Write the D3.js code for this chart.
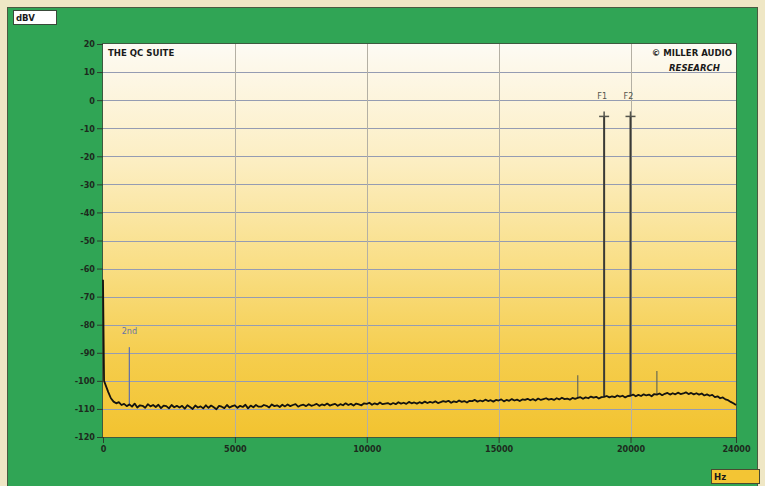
<!DOCTYPE html>
<html>
<head>
<meta charset="utf-8">
<script src="https://cdn.jsdelivr.net/npm/d3@7"></script>
<style>
  body { margin: 0; background: #efe7c5; }
  svg text { font-family: "DejaVu Sans Condensed", "Liberation Sans Narrow", sans-serif; }
</style>
</head>
<body>
<div id="chart"></div>
<script>
// ---- data ----
var yTicks = [20, 10, 0, -10, -20, -30, -40, -50, -60, -70, -80, -90, -100, -110, -120];
var xTicks = [0, 5000, 10000, 15000, 20000, 24000];
var xGrid = [5000, 10000, 15000, 20000];

// noise floor, first few points near DC then 100 Hz steps
var lowFreq = [0, 40, 100, 200, 300, 400, 500, 600, 700, 800, 900];
var lowDb = [-64, -100, -101.5, -104, -106.2, -107.4, -108, -107.6, -108.6, -108.2, -109];
// one row per kHz (x.0 .. x.9 kHz), from 1 kHz to 23.9 kHz
var noiseRows = [
  [-108.4, -109.2, -108.1, -109.5, -108.7, -108.9, -109.6, -108.3, -109.1, -108.6],
  [-109.3, -108.5, -109.7, -108.8, -109.0, -109.8, -108.6, -109.4, -108.9, -109.5],
  [-108.9, -109.9, -108.7, -109.3, -110.0, -108.8, -109.5, -109.1, -109.8, -108.7],
  [-109.6, -108.8, -109.4, -110.1, -108.9, -109.2, -109.7, -108.6, -109.5, -109.0],
  [-108.7, -109.6, -108.9, -109.3, -108.5, -109.8, -108.8, -109.4, -108.6, -109.2],
  [-109.2, -108.6, -108.9, -109.5, -108.4, -109.0, -108.7, -109.3, -108.5, -109.1],
  [-108.4, -109.0, -108.6, -108.3, -109.2, -108.7, -108.5, -109.0, -108.3, -108.9],
  [-108.6, -108.2, -108.9, -108.4, -108.7, -108.1, -108.8, -108.5, -108.2, -108.9],
  [-108.3, -108.7, -108.0, -108.6, -108.2, -108.8, -108.1, -108.4, -108.7, -108.0],
  [-108.2, -107.8, -108.5, -108.0, -108.4, -107.7, -108.3, -108.1, -107.9, -108.4],
  [-107.9, -108.3, -107.6, -108.1, -107.8, -108.2, -107.5, -108.0, -107.7, -108.1],
  [-107.6, -108.0, -107.4, -107.9, -107.5, -107.8, -107.3, -107.9, -107.6, -107.2],
  [-107.5, -107.1, -107.8, -107.3, -107.6, -107.0, -107.5, -107.2, -107.7, -107.1],
  [-107.2, -106.8, -107.4, -107.0, -107.3, -106.7, -107.2, -106.9, -107.4, -106.8],
  [-107.0, -106.6, -107.3, -106.8, -107.1, -106.5, -107.0, -106.7, -107.2, -106.6],
  [-106.8, -106.4, -106.9, -106.5, -107.0, -106.3, -106.8, -106.5, -106.2, -106.7],
  [-106.4, -106.8, -106.2, -106.6, -106.0, -106.5, -106.3, -106.7, -106.1, -106.4],
  [-106.1, -105.8, -106.4, -105.9, -106.2, -105.6, -106.0, -105.7, -106.3, -105.8],
  [-105.7, -105.4, -105.9, -105.5, -105.8, -105.2, -105.6, -105.3, -105.9, -105.4],
  [-105.3, -104.9, -105.5, -105.0, -105.4, -104.8, -105.2, -104.9, -105.5, -104.7],
  [-104.9, -104.5, -105.1, -104.6, -104.3, -104.9, -104.4, -104.8, -104.2, -104.7],
  [-104.5, -104.1, -104.7, -104.3, -104.8, -104.4, -104.9, -104.5, -105.2, -104.8],
  [-105.3, -105.0, -105.8, -105.5, -106.2, -105.9, -106.6, -106.9, -107.5, -108.0]
];
var endFreq = [24000];
var endDb = [-108.6];

// discrete lines
var toneFreq = [19000, 20000];
var toneDb = [-5.8, -5.8];
var toneLabel = ["F1", "F2"];
var spurFreq = [18000, 21000];
var spurDb = [-98, -96.5];
var harmFreq = [1000];
var harmDb = [-88];
var harmLabel = ["2nd"];

// ---- build the trace ----
var trace = [];
lowFreq.forEach(function(f, i) { trace.push({ f: f, db: lowDb[i] }); });
noiseRows.forEach(function(row, k) {
  row.forEach(function(v, j) { trace.push({ f: (k + 1) * 1000 + j * 100, db: v }); });
});
endFreq.forEach(function(f, i) { trace.push({ f: f, db: endDb[i] }); });

function floorAt(f) {
  var best = trace[0];
  trace.forEach(function(d) { if (Math.abs(d.f - f) < Math.abs(best.f - f)) best = d; });
  return best.db;
}

var width = 765, height = 486;
var margin = { left: 103, top: 44, right: 29, bottom: 49 };
var innerW = width - margin.left - margin.right;
var innerH = height - margin.top - margin.bottom;

var svg = d3.select('#chart').append('svg')
  .attr('width', width)
  .attr('height', height);

// green panel
svg.append('rect')
  .attr('x', 7.5).attr('y', 7.5)
  .attr('width', 750).attr('height', 490)
  .attr('fill', '#30a555')
  .attr('stroke', '#4a5a40')
  .attr('stroke-width', 1);

var defs = svg.append('defs');
var grad = defs.append('linearGradient')
  .attr('id', 'bg')
  .attr('x1', 0).attr('y1', 0).attr('x2', 0).attr('y2', 1);
grad.append('stop').attr('offset', '0%').attr('stop-color', '#fdfbf4');
grad.append('stop').attr('offset', '8%').attr('stop-color', '#fdf7e6');
grad.append('stop').attr('offset', '30%').attr('stop-color', '#fceec2');
grad.append('stop').attr('offset', '55%').attr('stop-color', '#f9df88');
grad.append('stop').attr('offset', '80%').attr('stop-color', '#f5cd4c');
grad.append('stop').attr('offset', '100%').attr('stop-color', '#f2c330');

var g = svg.append('g')
  .attr('transform', 'translate(' + margin.left + ',' + margin.top + ')');

var x = d3.scaleLinear().domain([0, 24000]).range([0, innerW]);
var y = d3.scaleLinear().domain([-120, 20]).range([innerH, 0]);

g.append('rect')
  .attr('width', innerW).attr('height', innerH)
  .attr('fill', 'url(#bg)');

// grid
g.append('g').selectAll('line')
  .data(yTicks.filter(function(v) { return v > -120 && v < 20; }))
  .join('line')
  .attr('x1', 0).attr('x2', innerW)
  .attr('y1', function(d) { return Math.round(y(d)) + 0.5; })
  .attr('y2', function(d) { return Math.round(y(d)) + 0.5; })
  .attr('stroke', '#959cb2')
  .attr('stroke-width', 1);

g.append('g').selectAll('line')
  .data(xGrid)
  .join('line')
  .attr('x1', function(d) { return Math.round(x(d)) + 0.5; })
  .attr('x2', function(d) { return Math.round(x(d)) + 0.5; })
  .attr('y1', 0).attr('y2', innerH)
  .attr('stroke', '#b4b0a4')
  .attr('stroke-width', 1);

// frame
g.append('rect')
  .attr('x', -0.5).attr('y', -0.5)
  .attr('width', innerW + 1).attr('height', innerH + 1)
  .attr('fill', 'none')
  .attr('stroke', '#3d5a40')
  .attr('stroke-width', 1);

// axes
var plain = function(d) { return String(d); };
var yAxis = d3.axisLeft(y).tickValues(yTicks).tickFormat(plain).tickSize(6).tickPadding(2);
var yG = g.append('g').call(yAxis);
var xAxis = d3.axisBottom(x).tickValues(xTicks).tickFormat(plain).tickSize(6).tickPadding(3);
var xG = g.append('g').attr('transform', 'translate(0,' + innerH + ')').call(xAxis);
[yG, xG].forEach(function(a) {
  a.select('.domain').remove();
  a.selectAll('line').attr('stroke', '#2b3d2c');
  a.selectAll('text')
    .attr('fill', '#1d2a1d')
    .style('font-size', '9px')
    .style('font-weight', 'bold');
});

// titles inside plot
g.append('text')
  .attr('x', 5).attr('y', 12)
  .style('font-size', '9.5px').style('font-weight', 'bold')
  .attr('fill', '#1a1a1a')
  .text('THE QC SUITE');
g.append('text')
  .attr('x', innerW - 4).attr('y', 12)
  .attr('text-anchor', 'end')
  .style('font-size', '9.5px').style('font-weight', 'bold')
  .attr('fill', '#1a1a1a')
  .text('\u00A9 MILLER AUDIO');
g.append('text')
  .attr('x', innerW - 16).attr('y', 27)
  .attr('text-anchor', 'end')
  .style('font-size', '9.5px').style('font-weight', 'bold').style('font-style', 'italic')
  .attr('fill', '#1a1a1a')
  .text('RESEARCH');

// spurs
g.append('g').selectAll('line')
  .data(spurFreq)
  .join('line')
  .attr('x1', function(d) { return x(d); })
  .attr('x2', function(d) { return x(d); })
  .attr('y1', function(d) { return y(floorAt(d)); })
  .attr('y2', function(d, i) { return y(spurDb[i]); })
  .attr('stroke', '#6b6a50')
  .attr('stroke-width', 1.2);

// 2nd harmonic
g.append('g').selectAll('line')
  .data(harmFreq)
  .join('line')
  .attr('x1', function(d) { return x(d); })
  .attr('x2', function(d) { return x(d); })
  .attr('y1', function(d) { return y(floorAt(d)); })
  .attr('y2', function(d, i) { return y(harmDb[i]); })
  .attr('stroke', '#6874a4')
  .attr('stroke-width', 1.3);
g.append('g').selectAll('text')
  .data(harmFreq)
  .join('text')
  .attr('x', function(d) { return x(d); })
  .attr('y', function(d, i) { return y(harmDb[i]) - 13; })
  .attr('text-anchor', 'middle')
  .style('font-size', '9px')
  .attr('fill', '#6874a4')
  .text(function(d, i) { return harmLabel[i]; });

// F1 / F2 tones
g.append('g').selectAll('line')
  .data(toneFreq)
  .join('line')
  .attr('x1', function(d) { return x(d); })
  .attr('x2', function(d) { return x(d); })
  .attr('y1', function(d) { return y(floorAt(d)); })
  .attr('y2', function(d, i) { return y(toneDb[i]); })
  .attr('stroke', '#3a3a35')
  .attr('stroke-width', 2);
var marks = g.append('g').selectAll('g')
  .data(toneFreq)
  .join('g')
  .attr('transform', function(d, i) { return 'translate(' + x(d) + ',' + y(toneDb[i]) + ')'; });
marks.append('line')
  .attr('x1', -5).attr('x2', 5).attr('y1', 0).attr('y2', 0)
  .attr('stroke', '#55554d').attr('stroke-width', 1.5);
marks.append('line')
  .attr('x1', 0).attr('x2', 0).attr('y1', -5).attr('y2', 0)
  .attr('stroke', '#55554d').attr('stroke-width', 1.5);
marks.append('text')
  .attr('x', -2).attr('y', -17)
  .attr('text-anchor', 'middle')
  .style('font-size', '9px')
  .attr('fill', '#55554d')
  .text(function(d, i) { return toneLabel[i]; });

// noise trace
var line = d3.line()
  .x(function(d) { return x(d.f); })
  .y(function(d) { return y(d.db); });
g.append('path')
  .datum(trace)
  .attr('d', line)
  .attr('fill', 'none')
  .attr('stroke', '#141410')
  .attr('stroke-width', 1.8)
  .attr('stroke-linejoin', 'round');

// unit boxes
svg.append('rect')
  .attr('x', 13.5).attr('y', 10.5).attr('width', 43).attr('height', 14)
  .attr('fill', '#ffffff').attr('stroke', '#3a4a3a');
svg.append('text')
  .attr('x', 16).attr('y', 21)
  .style('font-size', '9.5px').style('font-weight', 'bold')
  .attr('fill', '#1a1a1a')
  .text('dBV');
svg.append('rect')
  .attr('x', 711.5).attr('y', 469.5).attr('width', 48).attr('height', 14)
  .attr('fill', '#f3c534').attr('stroke', '#4a4a30');
svg.append('text')
  .attr('x', 714).attr('y', 480)
  .style('font-size', '9.5px').style('font-weight', 'bold')
  .attr('fill', '#1a1a1a')
  .text('Hz');
</script>
</body>
</html>
